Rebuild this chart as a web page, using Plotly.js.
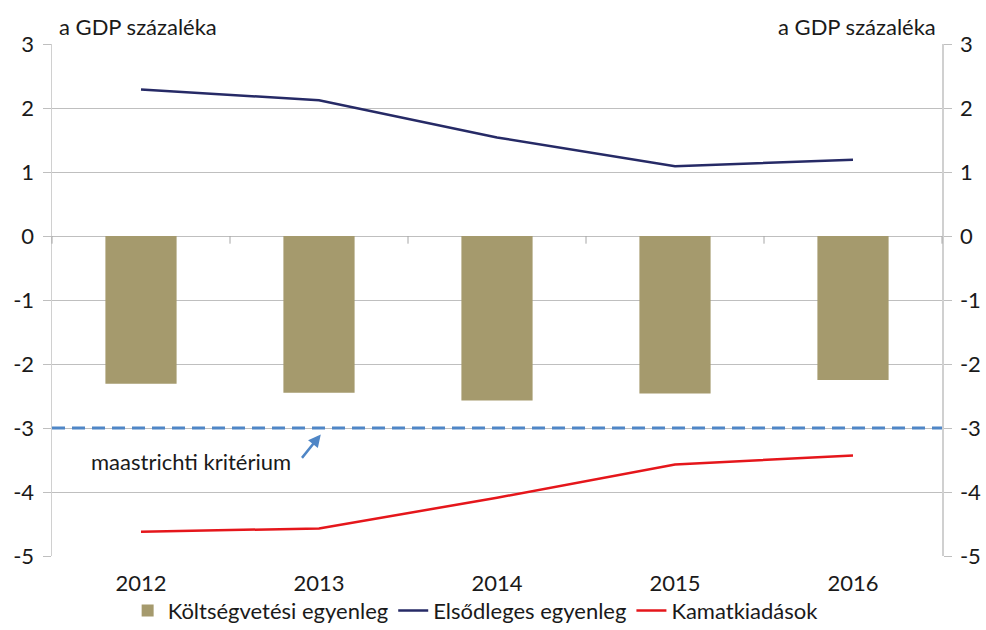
<!DOCTYPE html>
<html>
<head>
<meta charset="utf-8">
<script src="https://cdn.plot.ly/plotly-3.0.1.min.js"></script>
<style>html,body{margin:0;padding:0;background:#fff;}#chart{width:986px;height:630px;}</style>
</head>
<body>
<div id="chart"></div>
<script>
const years = ['2012', '2013', '2014', '2015', '2016'];
const koltsegvetesi = [-2.31, -2.45, -2.57, -2.46, -2.25];
const elsodleges = [2.29, 2.12, 1.54, 1.09, 1.19];
const kamat = [-4.62, -4.57, -4.09, -3.57, -3.43];
const maastricht = -3;
const yTicks = [3, 2, 1, 0, -1, -2, -3, -4, -5];

const FONT = 'Lato, "Open Sans", sans-serif';
const TXT = '#1a1a1a';

const traces = [
  {type: 'bar', name: 'Költségvetési egyenleg', x: years, y: koltsegvetesi,
   marker: {color: '#A59A6D'}, width: 0.4},
  {type: 'scatter', mode: 'lines', name: 'Elsődleges egyenleg', x: years, y: elsodleges,
   line: {color: '#262A66', width: 2.5}},
  {type: 'scatter', mode: 'lines', name: 'Kamatkiadások', x: years, y: kamat,
   line: {color: '#E5161B', width: 2.5}},
  {type: 'scatter', mode: 'lines', x: years, y: elsodleges, yaxis: 'y2',
   showlegend: false, hoverinfo: 'skip', line: {width: 0, color: 'rgba(0,0,0,0)'}}
];

const shapes = [
  {type: 'line', xref: 'paper', yref: 'y', x0: 0, x1: 1, y0: maastricht, y1: maastricht,
   line: {color: '#4F86C6', width: 3, dash: '13px,7px'}, layer: 'above'}
];
for (let i = 0; i <= years.length; i++) {
  shapes.push({type: 'line', xref: 'paper', yref: 'y', x0: i / years.length, x1: i / years.length,
    y0: 0, y1: -0.12, line: {color: '#A6A6A6', width: 1}});
}

const layout = {
  width: 986, height: 630,
  margin: {l: 52, r: 44, t: 44, b: 74, autoexpand: false},
  paper_bgcolor: '#fff', plot_bgcolor: '#fff',
  font: {family: FONT, color: TXT, size: 22},
  showlegend: true,
  legend: {orientation: 'h', x: 0.476, xanchor: 'center', y: -0.107, yanchor: 'middle',
    bgcolor: 'rgba(0,0,0,0)',
    font: {family: FONT, size: 22, color: TXT}, itemwidth: 30, tracegroupgap: 0,
    traceorder: 'normal'},
  xaxis: {type: 'category', range: [-0.5, 4.5], showgrid: false, zeroline: false,
    showline: false, ticks: '', tickfont: {family: FONT, size: 22, color: TXT},
    ticklabelstandoff: 12, fixedrange: true},
  yaxis: {range: [-5, 3], tickvals: yTicks, ticktext: yTicks.map(String), showgrid: true,
    gridcolor: '#BFBFBF', gridwidth: 1, zeroline: true, zerolinecolor: '#BFBFBF', zerolinewidth: 1,
    showline: true, linecolor: '#D0D0D0', linewidth: 1.5, ticks: 'outside', ticklen: 8,
    tickcolor: '#BFBFBF', tickfont: {family: FONT, size: 22, color: TXT}, ticklabelstandoff: 4},
  yaxis2: {range: [-5, 3], tickvals: yTicks, ticktext: yTicks.map(String), overlaying: 'y',
    side: 'right', showgrid: false, zeroline: false, showline: true, linecolor: '#D0D0D0',
    linewidth: 1.5, ticks: 'outside', ticklen: 8, tickcolor: '#BFBFBF',
    tickfont: {family: FONT, size: 22, color: TXT}, ticklabelstandoff: 4},
  shapes: shapes,
  annotations: [
    {xref: 'paper', yref: 'paper', x: 0.006, y: 1.035, xanchor: 'left', yanchor: 'middle',
     text: 'a GDP százaléka', showarrow: false, font: {family: FONT, size: 22, color: TXT}},
    {xref: 'paper', yref: 'paper', x: 0.996, y: 1.035, xanchor: 'right', yanchor: 'middle',
     text: 'a GDP százaléka', showarrow: false, font: {family: FONT, size: 22, color: TXT}},
    {xref: 'x', yref: 'y', x: 0.28, y: -3.53, text: 'maastrichti kritérium', showarrow: false,
     font: {family: FONT, size: 22, color: TXT}},
    {xref: 'x', yref: 'y', x: 1.01, y: -3.1, text: '', showarrow: true, ax: -20, ay: 25,
     arrowcolor: '#4F86C6', arrowwidth: 2.5, arrowhead: 2, arrowsize: 1}
  ]
};

Plotly.newPlot('chart', traces, layout, {displayModeBar: false, staticPlot: true});
</script>
</body>
</html>
